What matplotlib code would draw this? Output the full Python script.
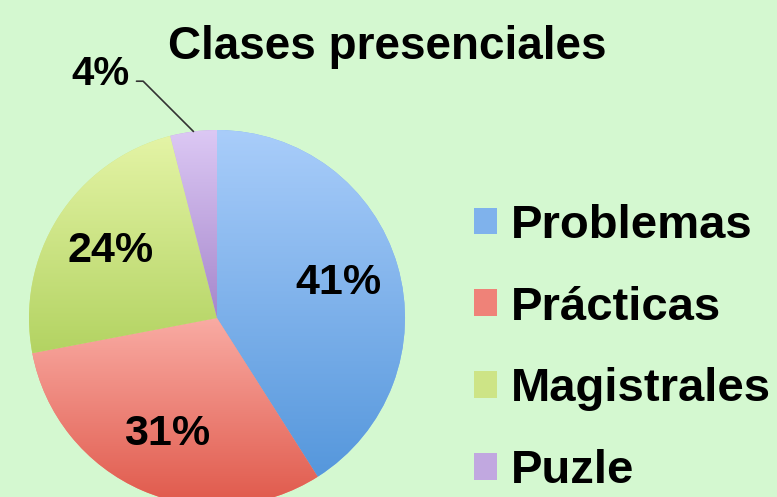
import numpy as np
import matplotlib
matplotlib.use("Agg")
import matplotlib.pyplot as plt
from matplotlib.colors import LinearSegmentedColormap

labels = ["Problemas", "Prácticas", "Magistrales", "Puzle"]
values = [41, 31, 24, 4]
pct_labels = ["41%", "31%", "24%", "4%"]
top_colors = ["#a9cdfa", "#f9aba3", "#e4f4a6", "#dcc8f4"]
bottom_colors = ["#5597dc", "#e0594b", "#b3d362", "#a687cc"]
mid_colors = ["#7fb2ec", "#ef8278", "#cde486", "#c1a8e0"]

bg = "#d4f8d0"
plt.rcParams["font.family"] = ["Liberation Sans", "DejaVu Sans"]

fig = plt.figure(figsize=(7.77, 4.97), dpi=100, facecolor=bg)
ax = fig.add_axes([0, 0, 1, 1])
ax.set_facecolor(bg)

cx, cy, r = 217, 179, 188
wedges, _ = ax.pie(values, colors=mid_colors, startangle=90, counterclock=False,
                   radius=r, center=(cx, cy), wedgeprops=dict(linewidth=0))

# vertical gradient inside each slice
grad = np.linspace(0, 1, 256).reshape(-1, 1)
for w, c_top, c_bot in zip(wedges, top_colors, bottom_colors):
    ext = w.get_path().get_extents()
    cmap = LinearSegmentedColormap.from_list("g", [c_bot, c_top])
    im = ax.imshow(grad, cmap=cmap, origin="lower", aspect="auto",
                   extent=[ext.x0, ext.x1, ext.y0, ext.y1], zorder=2)
    im.set_clip_path(w)
ax.set_xlim(0, 777)
ax.set_ylim(0, 497)
ax.set_aspect("equal")
ax.axis("off")

# percent labels
for w, txt in zip(wedges, pct_labels[:3]):
    ang = np.deg2rad((w.theta1 + w.theta2) / 2)
    ax.text(cx + 0.67 * r * np.cos(ang), cy + 0.67 * r * np.sin(ang), txt,
            ha="center", va="center", fontsize=31, fontweight="bold", zorder=5)

w = wedges[3]
ang = np.deg2rad((w.theta1 + w.theta2) / 2)
ax.annotate(pct_labels[3], xy=(cx + r * np.cos(ang), cy + r * np.sin(ang)),
            xytext=(cx - 0.62 * r, cy + 1.3 * r), ha="center", va="center",
            fontsize=29, fontweight="bold", zorder=5,
            arrowprops=dict(arrowstyle="-", color="#333333", lw=1.2,
                            connectionstyle="angle,angleA=0,angleB=-45,rad=0",
                            relpos=(1, 0.3), shrinkA=3, shrinkB=0))

fig.text(0.498, 0.905, "Clases presenciales", ha="center", va="center",
         fontsize=33, fontweight="bold")

leg = ax.legend(wedges, labels, loc="upper left", bbox_to_anchor=(0.61, 0.59),
                frameon=False, fontsize=34, handlelength=0.49, handleheight=0.49,
                handletextpad=0.3, labelspacing=0.8, borderpad=0, borderaxespad=0)
for t in leg.get_texts():
    t.set_fontweight("bold")

fig.savefig("out.png", dpi=100, facecolor=bg)
